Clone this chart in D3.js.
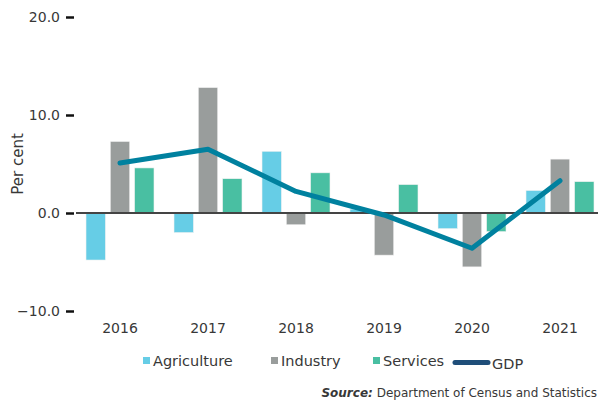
<!DOCTYPE html>
<html>
<head>
<meta charset="utf-8">
<script src="https://cdn.jsdelivr.net/npm/d3@7"></script>
<style>
  body { margin: 0; background: #fff; }
  svg text { font-family: "DejaVu Sans", sans-serif; fill: #383838; }
</style>
</head>
<body>
<div id="chart"></div>
<script>
// data
var years = ["2016", "2017", "2018", "2019", "2020", "2021"];
var agriculture = [-4.8, -2.0, 6.3, 0.4, -1.6, 2.3];
var industry = [7.3, 12.8, -1.2, -4.3, -5.5, 5.5];
var services = [4.6, 3.5, 4.1, 2.9, -1.9, 3.2];
var gdp = [5.1, 6.5, 2.2, -0.2, -3.6, 3.3];
var yTicks = [-10, 0, 10, 20];

var seriesNames = ["Agriculture", "Industry", "Services"];
var seriesColors = ["#66cde6", "#999d9c", "#49bfa2"];
var lineColor = "#00819f";
var legendLineColor = "#1f4e79";

var W = 598, H = 404;
var svg = d3.select("#chart").append("svg")
    .attr("width", W)
    .attr("height", H);

var x = d3.scaleBand()
    .domain(years)
    .range([76, 604])
    .paddingInner(0)
    .paddingOuter(0);

var x1 = d3.scaleBand()
    .domain(seriesNames)
    .range([10, x.bandwidth() - 10])
    .paddingInner(0.2);

var y = d3.scaleLinear()
    .domain([-10, 20])
    .range([311, 17]);

var rows = years.map(function (yr, i) {
    return {year: yr, values: [agriculture[i], industry[i], services[i]]};
});

// bars
var groups = svg.selectAll(".group")
    .data(rows)
    .enter().append("g")
    .attr("class", "group")
    .attr("transform", function (d) { return "translate(" + x(d.year) + ",0)"; });

groups.selectAll("rect")
    .data(function (d) {
        return d.values.map(function (v, j) { return {name: seriesNames[j], value: v, j: j}; });
    })
    .enter().append("rect")
    .attr("x", function (d) { return x1(d.name); })
    .attr("width", x1.bandwidth())
    .attr("y", function (d) { return y(Math.max(0, d.value)); })
    .attr("height", function (d) { return Math.abs(y(d.value) - y(0)); })
    .attr("fill", function (d) { return seriesColors[d.j]; })
    .attr("stroke", "#f2f2f2")
    .attr("stroke-width", 0.6);

// zero line
svg.append("line")
    .attr("x1", 76)
    .attr("x2", 604)
    .attr("y1", y(0))
    .attr("y2", y(0))
    .attr("stroke", "#444")
    .attr("stroke-width", 2);

// y axis (ticks only, no domain)
var yAxis = svg.append("g")
    .attr("transform", "translate(74,0)")
    .call(d3.axisLeft(y).tickValues(yTicks).tickSize(8).tickPadding(6)
        .tickFormat(function (d) { return d3.format(".1f")(d); }));
yAxis.select(".domain").remove();
yAxis.selectAll(".tick line").attr("stroke", "#111").attr("stroke-width", 2.5);
yAxis.selectAll(".tick text").style("font-size", "14px").attr("fill", "#383838");

// x axis labels
var xAxis = svg.append("g")
    .attr("transform", "translate(0,318)")
    .call(d3.axisBottom(x).tickSize(0).tickPadding(5));
xAxis.select(".domain").remove();
xAxis.selectAll(".tick text").style("font-size", "14px").attr("fill", "#383838");

// y label
svg.append("text")
    .attr("transform", "translate(23," + y(5) + ") rotate(-90)")
    .attr("text-anchor", "middle")
    .style("font-size", "15px")
    .text("Per cent");

// GDP line
var line = d3.line()
    .x(function (d, i) { return x(years[i]) + x.bandwidth() / 2; })
    .y(function (d) { return y(d); });

svg.append("path")
    .datum(gdp)
    .attr("d", line)
    .attr("fill", "none")
    .attr("stroke", lineColor)
    .attr("stroke-width", 5)
    .attr("stroke-linecap", "round")
    .attr("stroke-linejoin", "round");

// legend
var legendX = [143, 271, 373];
var legend = svg.selectAll(".legend")
    .data(seriesNames)
    .enter().append("g")
    .attr("class", "legend")
    .attr("transform", function (d, i) { return "translate(" + legendX[i] + ",357)"; });
legend.append("rect")
    .attr("width", 7)
    .attr("height", 7)
    .attr("fill", function (d, i) { return seriesColors[i]; });
legend.append("text")
    .attr("x", 10)
    .attr("y", 7)
    .attr("dy", "0.15em")
    .style("font-size", "14.5px")
    .text(function (d) { return d; });

svg.append("line")
    .attr("x1", 455)
    .attr("x2", 488)
    .attr("y1", 362.5)
    .attr("y2", 362.5)
    .attr("stroke", legendLineColor)
    .attr("stroke-width", 5)
    .attr("stroke-linecap", "round");
svg.append("text")
    .attr("x", 492)
    .attr("y", 369)
    .style("font-size", "14.5px")
    .text("GDP");

// source
var src = svg.append("text")
    .attr("x", 597)
    .attr("y", 397)
    .attr("text-anchor", "end")
    .style("font-size", "12px");
src.append("tspan").style("font-style", "italic").style("font-weight", "bold").text("Source:");
src.append("tspan").text(" Department of Census and Statistics");
</script>
</body>
</html>
